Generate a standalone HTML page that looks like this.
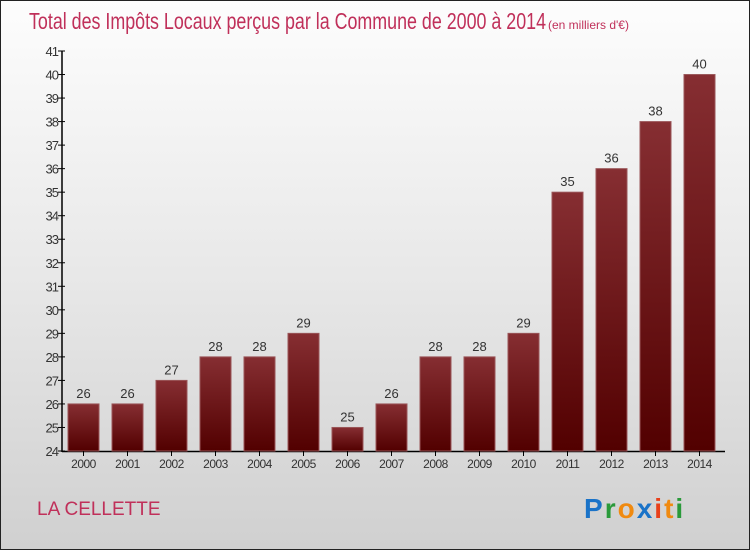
<!DOCTYPE html>
<html><head><meta charset="utf-8"><style>
body{margin:0}
#c{position:relative;width:750px;height:550px;box-sizing:border-box;border:1px solid #222;background:linear-gradient(#fdfdfd,#e8e8e8 50%,#d0d0d0);font-family:"Liberation Sans",sans-serif;overflow:hidden}
</style></head><body>
<div id="c">
<svg width="750" height="550" style="position:absolute;left:0;top:0">
<defs><linearGradient id="bg" x1="0" y1="0" x2="0" y2="1"><stop offset="0" stop-color="#862e32"/><stop offset="1" stop-color="#520000"/></linearGradient></defs>
<text x="28" y="28" font-size="23" fill="#c0305a" textLength="517" lengthAdjust="spacingAndGlyphs">Total des Impôts Locaux perçus par la Commune de 2000 à 2014</text>
<text x="547" y="28" font-size="12" fill="#c0305a">(en milliers d'€)</text>
<text x="36" y="514" font-size="19" fill="#c0305a">LA CELLETTE</text>
<g id="plot"></g>
<text x="583" y="517" font-size="28" font-weight="bold" letter-spacing="2"><tspan fill="#1a73c8">P</tspan><tspan fill="#2a9a3a">r</tspan><tspan fill="#f08a10">o</tspan><tspan fill="#1a73c8">x</tspan><tspan fill="#e8401a">i</tspan><tspan fill="#f08a10">t</tspan><tspan fill="#2a9a3a">i</tspan></text>
</svg>
</div>
<script>
const years=["2000","2001","2002","2003","2004","2005","2006","2007","2008","2009","2010","2011","2012","2013","2014"];
const values=[26,26,27,28,28,29,25,26,28,28,29,35,36,38,40];
const ticks=[24,25,26,27,28,29,30,31,32,33,34,35,36,37,38,39,40,41];
const NS="http://www.w3.org/2000/svg";
const g=document.getElementById("plot");
const y=v=>450-(v-24)*(400/17);
const x=i=>82.5+i*44;
function el(t,a){const e=document.createElementNS(NS,t);for(const k in a)e.setAttribute(k,a[k]);g.appendChild(e);return e;}
const ax=el("line",{x1:61,y1:50,x2:61,y2:451,stroke:"#000","stroke-width":1.5});


const bx=el("line",{x1:61,y1:450.5,x2:724,y2:450.5,stroke:"#000","stroke-width":1.5});


ticks.forEach(t=>{
 const l=el("line",{x1:57,y1:y(t),x2:64,y2:y(t),stroke:"#000"});
 
 
 const tx=el("text",{x:57,y:y(t)+5,"font-size":13,"text-anchor":"end",fill:"#333","letter-spacing":"-1"});
 tx.textContent=t;
 
 
});
years.forEach((yr,i)=>{
 const v=values[i];
 const r=el("rect",{x:x(i)-15.5,y:y(v),width:31,height:450-y(v),fill:"url(#bg)",stroke:"#9a5558","stroke-width":1});
 
 
 const vt=el("text",{x:x(i),y:y(v)-6,"font-size":13,"text-anchor":"middle",fill:"#333"});
 vt.textContent=v;
 
 
 const tk=el("line",{x1:x(i),y1:450,x2:x(i),y2:455,stroke:"#000"});
 
 
 const xt=el("text",{x:x(i),y:467,"font-size":12,"text-anchor":"middle",fill:"#333","letter-spacing":"-0.5"});
 xt.textContent=yr;
 
 
});
</script>
</body></html>
